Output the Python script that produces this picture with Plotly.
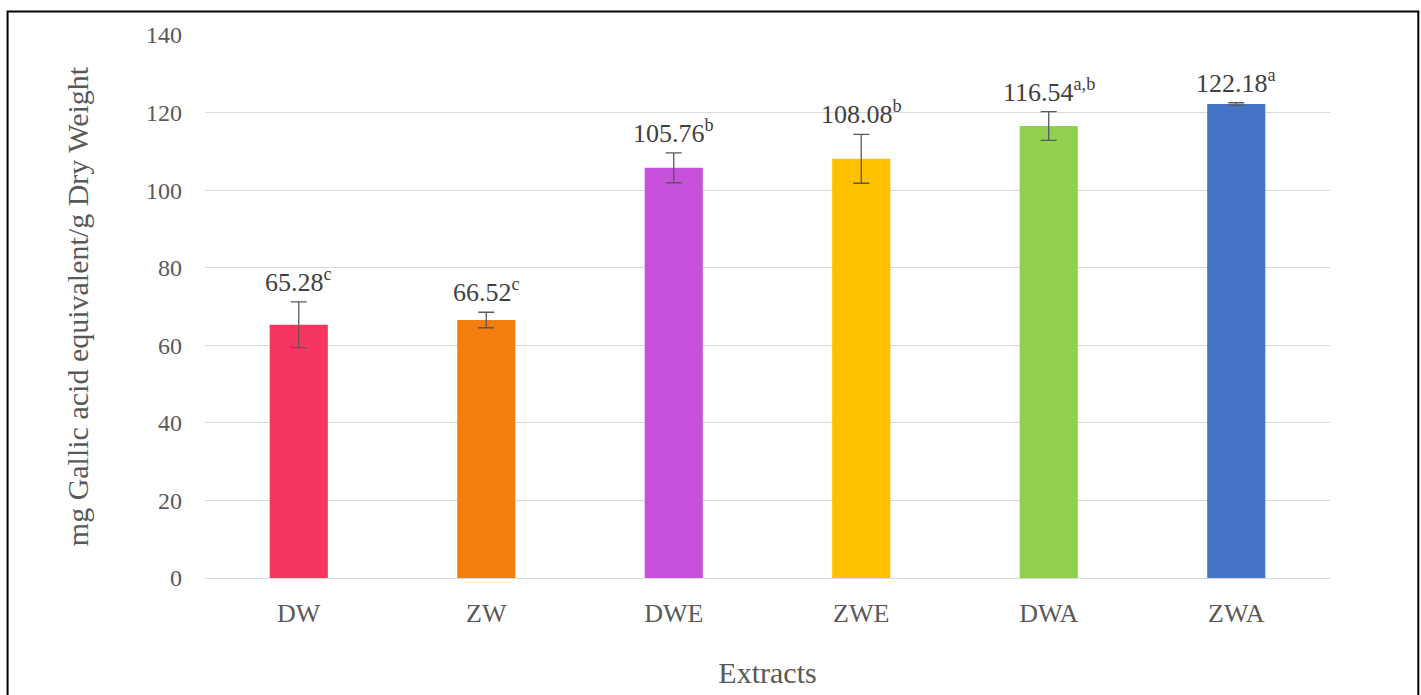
import plotly.graph_objects as go

# Total phenolic content of each extract (mean ± SD) with significance letters
extracts = ["DW", "ZW", "DWE", "ZWE", "DWA", "ZWA"]
means = [65.28, 66.52, 105.76, 108.08, 116.54, 122.18]
errors = [5.9, 2.0, 3.85, 6.3, 3.7, 0.35]
letters = ["c", "c", "b", "b", "a,b", "a"]
colors = ["#F7365F", "#F47F0E", "#C851DC", "#FFC000", "#92D050", "#4472C4"]
y_ticks = [0, 20, 40, 60, 80, 100, 120, 140]

serif = "Liberation Serif, Times New Roman, serif"

fig = go.Figure()
fig.add_trace(go.Bar(
    x=extracts,
    y=means,
    marker=dict(color=colors, line=dict(width=0)),
    width=0.31,
    error_y=dict(type="data", array=errors, visible=True,
                 color="#595959", thickness=1.3, width=8),
    hoverinfo="x+y",
))

for name, m, e, l in zip(extracts, means, errors, letters):
    fig.add_annotation(
        x=name, y=m + e, yref="y", xref="x",
        text=f"{m:.2f}<sup>{l}</sup>",
        showarrow=False, yanchor="bottom", yshift=3,
        font=dict(family=serif, size=26, color="#404040"),
    )

# outer frame
fig.add_shape(type="rect", xref="paper", yref="paper",
              x0=-0.1755, x1=1.0785, y0=-0.5, y1=1.0435,
              line=dict(color="black", width=2), fillcolor="rgba(0,0,0,0)",
              layer="above")

fig.update_layout(
    width=1421, height=695,
    margin=dict(l=205, r=91, t=35, b=117),
    paper_bgcolor="white", plot_bgcolor="white",
    showlegend=False,
    bargap=0.69,
    font=dict(family=serif, color="#595959"),
    xaxis=dict(
        title=dict(text="Extracts", font=dict(family=serif, size=30, color="#595959"), standoff=34),
        tickfont=dict(family=serif, size=26, color="#595959"),
        showgrid=False, showline=True, linecolor="#D9D9D9", linewidth=1.3,
        ticks="", ticklabelstandoff=12,
    ),
    yaxis=dict(
        title=dict(text="mg Gallic acid equivalent/g Dry Weight",
                   font=dict(family=serif, size=30, color="#595959"), standoff=48),
        range=[0, 140], tickvals=y_ticks,
        tickfont=dict(family=serif, size=24, color="#595959"),
        showgrid=True, gridcolor="#D9D9D9", gridwidth=1.3,
        zeroline=False, showline=False, ticks="", ticklabelstandoff=22,
    ),
)

fig.write_html("out.html")
